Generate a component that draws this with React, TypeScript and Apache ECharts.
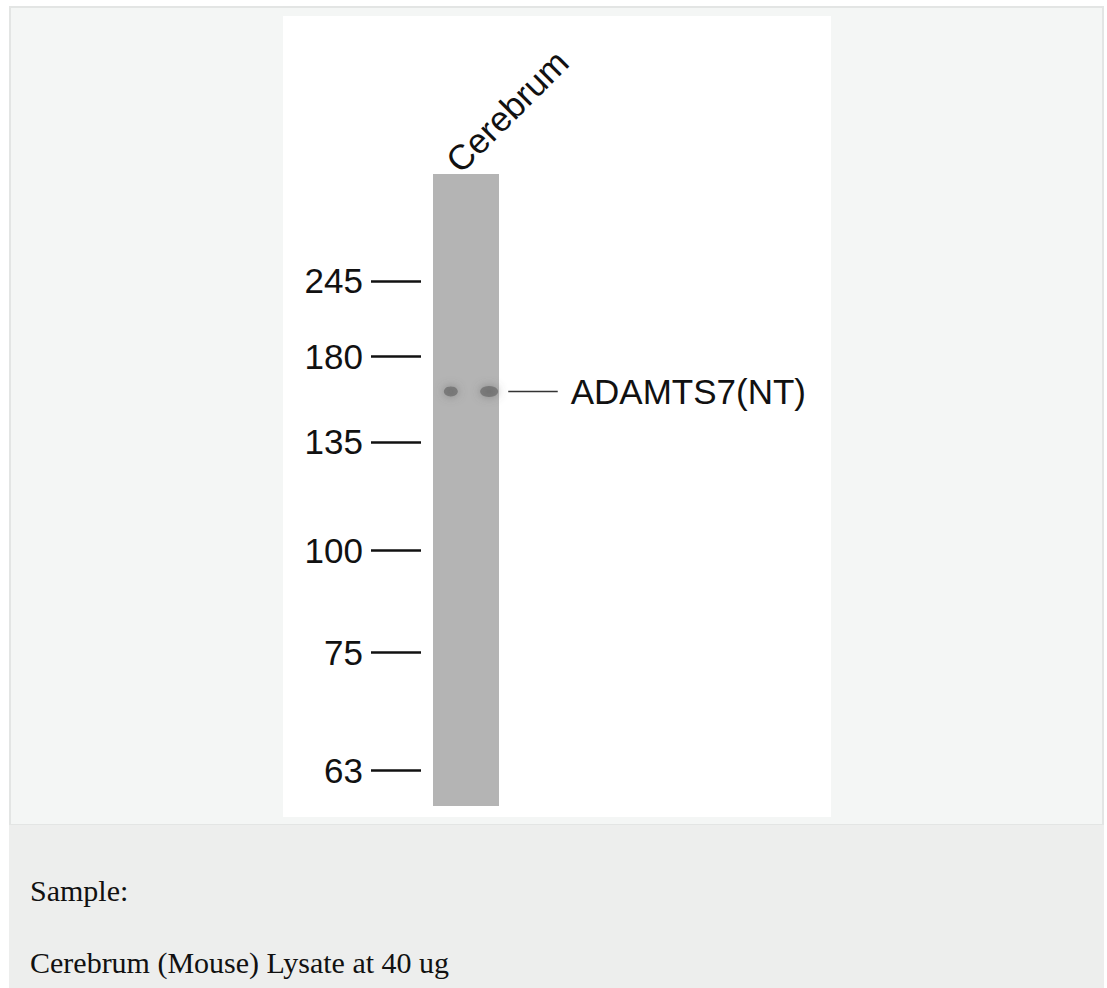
import React, { useEffect, useRef } from 'react';
import * as echarts from 'echarts';

// ---- data ----
const laneNames = ['Cerebrum'];
const markerLabels = ['245', '180', '135', '100', '75', '63'];
// migration position along the lane (0 = top of lane, 100 = bottom)
const markerPositions = [16.9, 28.8, 42.4, 59.6, 75.7, 94.4];
const bandTarget = 'ADAMTS7(NT)';
const bandPosition = 34.4;
// lane spans x 0..1
const laneExtent = [0, 1];
const bandSpotsX = [0.27, 0.85];
const bandSpotSizes = [[14, 10], [18, 11]];
const pointerX = [1.14, 1.89];
const captionLines = ['Sample:', 'Cerebrum (Mouse) Lysate at 40 ug'];

const SANS = '"Liberation Sans", Arial, sans-serif';
const SERIF = '"Liberation Serif", "Times New Roman", serif';

export default function App() {
  const ref = useRef<HTMLDivElement>(null);

  useEffect(() => {
    const chart = echarts.init(ref.current!, null, { renderer: 'svg', width: 1107, height: 988 });
    const option: any = {
      animation: false,
      backgroundColor: 'transparent',
      textStyle: { fontFamily: SANS },
      grid: [
        // blot grid: lane occupies x 0..1, pointer + label to the right
        { left: 433, top: 174, width: 132, height: 632, show: false, containLabel: false },
        // marker axis grid (sits just left of the lane)
        { left: 421, top: 174, width: 12, height: 632, show: false, containLabel: false },
      ],
      xAxis: [
        { type: 'value', gridIndex: 0, min: 0, max: 2, show: false },
        { type: 'value', gridIndex: 1, min: 0, max: 1, show: false },
      ],
      yAxis: [
        {
          type: 'value',
          gridIndex: 0,
          inverse: true,
          min: 0,
          max: 100,
          show: false,
        },
        {
          type: 'value',
          gridIndex: 1,
          inverse: true,
          min: 0,
          max: 100,
          position: 'left',
          axisLine: { show: false },
          splitLine: { show: false },
          axisTick: {
            show: true,
            customValues: markerPositions,
            length: 50,
            lineStyle: { color: '#111', width: 2.5 },
          },
          axisLabel: {
            show: true,
            customValues: markerPositions,
            formatter: (v: number) => {
              const i = markerPositions.indexOf(v);
              return i >= 0 ? markerLabels[i] : '';
            },
            margin: 58,
            fontSize: 35,
            fontFamily: SANS,
            color: '#111',
          },
        },
      ],
      series: [
        {
          type: 'scatter',
          name: 'lane',
          xAxisIndex: 0,
          yAxisIndex: 0,
          data: [],
          silent: true,
          markArea: {
            silent: true,
            itemStyle: { color: '#b4b4b4', opacity: 1 },
            data: [[{ coord: [laneExtent[0], 0] }, { coord: [laneExtent[1], 100] }]],
          },
        },
        {
          type: 'scatter',
          name: 'band',
          xAxisIndex: 0,
          yAxisIndex: 0,
          z: 5,
          data: bandSpotsX.map((x, i) => ({ value: [x, bandPosition], symbolSize: bandSpotSizes[i] })),
          itemStyle: {
            color: 'rgba(92,92,92,0.72)',
            shadowBlur: 10,
            shadowColor: 'rgba(95,95,95,0.95)',
          },
          silent: true,
        },
        {
          type: 'line',
          name: 'pointer',
          xAxisIndex: 0,
          yAxisIndex: 0,
          symbol: 'none',
          data: pointerX.map((x) => [x, bandPosition]),
          lineStyle: { color: '#333', width: 1.5 },
          endLabel: {
            show: true,
            formatter: bandTarget,
            distance: 13,
            fontSize: 35,
            fontFamily: SANS,
            color: '#111',
          },
          silent: true,
        },
      ],
    };
    chart.setOption(option);

    const anchor = chart.convertToPixel({ gridIndex: 0 }, [(laneExtent[0] + laneExtent[1]) / 2, 0]) as number[];
    chart.setOption({
      graphic: [
        {
          type: 'text',
          x: anchor[0] - 14,
          y: anchor[1] - 8,
          rotation: Math.PI / 4,
          style: {
            text: laneNames[0],
            fontSize: 35,
            fontFamily: SANS,
            fill: '#111',
            align: 'left',
            verticalAlign: 'middle',
          },
        },
        {
          type: 'text',
          x: 30,
          y: 875,
          style: {
            text: captionLines[0],
            fontSize: 30,
            fontFamily: SERIF,
            fill: '#111',
            align: 'left',
            verticalAlign: 'alphabetic',
          },
        },
        {
          type: 'text',
          x: 30,
          y: 947,
          style: {
            text: captionLines[1],
            fontSize: 30,
            fontFamily: SERIF,
            fill: '#111',
            align: 'left',
            verticalAlign: 'alphabetic',
          },
        },
      ],
    });

    return () => chart.dispose();
  }, []);

  return (
    <div style={{ position: 'absolute', left: 0, top: 0, width: 1107, height: 988, background: '#fff' }}>
      <div
        style={{
          position: 'absolute',
          left: 9,
          top: 6,
          width: 1095,
          height: 820,
          background: '#f4f6f5',
          border: '2px solid #e3e5e4',
          boxSizing: 'border-box',
        }}
      />
      <div style={{ position: 'absolute', left: 9, top: 825, width: 1095, height: 163, background: '#edeeed' }} />
      <div style={{ position: 'absolute', left: 283, top: 16, width: 548, height: 801, background: '#ffffff' }} />
      <div ref={ref} style={{ position: 'absolute', left: 0, top: 0, width: 1107, height: 988 }} />
    </div>
  );
}
